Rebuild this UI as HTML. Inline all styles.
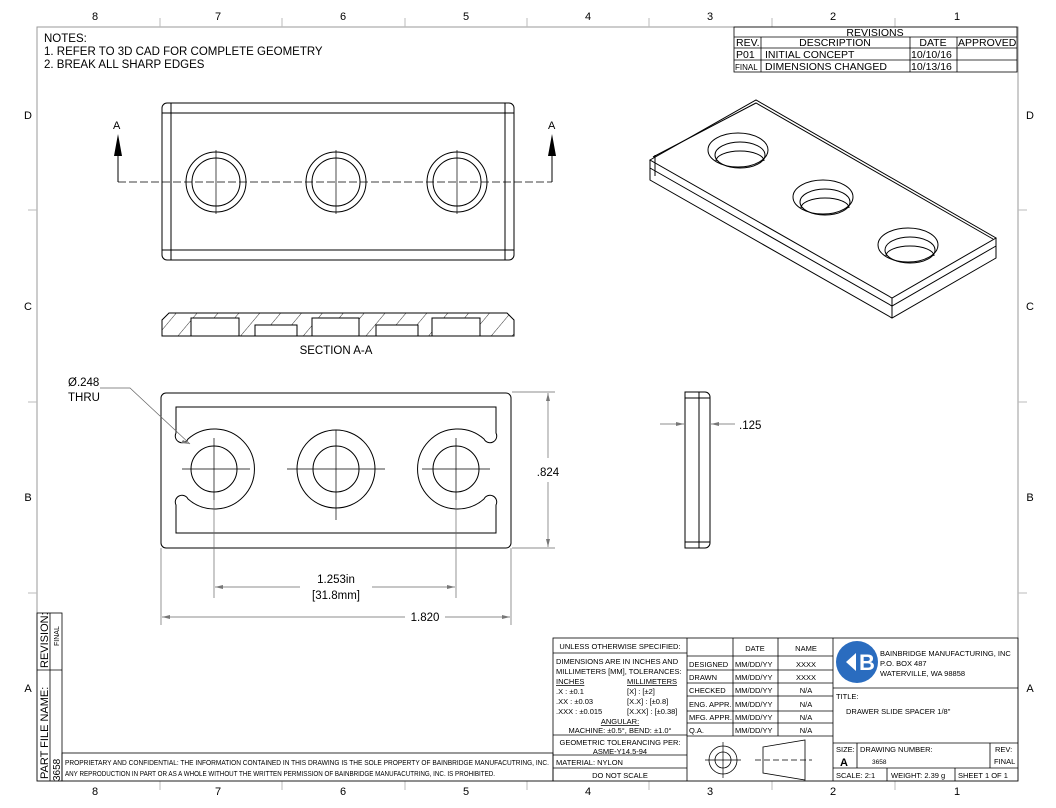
<!DOCTYPE html>
<html><head><meta charset="utf-8"><style>
html,body{margin:0;padding:0;background:#fff;}
svg{display:block;}
text{font-family:"Liberation Sans",sans-serif;fill:#000;}
.g{fill:#555;}
</style></head><body>
<svg width="1056" height="808" viewBox="0 0 1056 808" xmlns="http://www.w3.org/2000/svg">
<defs>
<pattern id="h" patternUnits="userSpaceOnUse" width="16" height="16" patternTransform="rotate(40)">
<line x1="0" y1="0" x2="0" y2="16" stroke="#000" stroke-width="0.8"/></pattern>
</defs>
<rect x="37" y="27" width="981" height="754" fill="none" stroke="#999" stroke-width="1"/>
<g stroke="#bbb" stroke-width="1">
<line x1="160" y1="18" x2="160" y2="27"/><line x1="282" y1="18" x2="282" y2="27"/><line x1="405" y1="18" x2="405" y2="27"/><line x1="527" y1="18" x2="527" y2="27"/><line x1="649" y1="18" x2="649" y2="27"/><line x1="772" y1="18" x2="772" y2="27"/><line x1="895" y1="18" x2="895" y2="27"/>
<line x1="160" y1="781" x2="160" y2="790"/><line x1="282" y1="781" x2="282" y2="790"/><line x1="405" y1="781" x2="405" y2="790"/><line x1="527" y1="781" x2="527" y2="790"/><line x1="649" y1="781" x2="649" y2="790"/><line x1="772" y1="781" x2="772" y2="790"/><line x1="895" y1="781" x2="895" y2="790"/>
<line x1="28" y1="210" x2="37" y2="210"/><line x1="28" y1="402" x2="37" y2="402"/><line x1="28" y1="593" x2="37" y2="593"/>
<line x1="1018" y1="210" x2="1027" y2="210"/><line x1="1018" y1="402" x2="1027" y2="402"/><line x1="1018" y1="593" x2="1027" y2="593"/>
</g>
<g font-size="11" text-anchor="middle" class="g">
<text x="95" y="20">8</text><text x="218" y="20">7</text><text x="343" y="20">6</text><text x="466" y="20">5</text><text x="588" y="20">4</text><text x="710" y="20">3</text><text x="833" y="20">2</text><text x="957" y="20">1</text>
<text x="95" y="795">8</text><text x="218" y="795">7</text><text x="343" y="795">6</text><text x="466" y="795">5</text><text x="588" y="795">4</text><text x="710" y="795">3</text><text x="833" y="795">2</text><text x="957" y="795">1</text>
<text x="28" y="119">D</text><text x="28" y="310">C</text><text x="28" y="501">B</text><text x="28" y="692">A</text>
<text x="1030" y="119">D</text><text x="1030" y="310">C</text><text x="1030" y="501">B</text><text x="1030" y="692">A</text>
</g>
<g font-size="11.5"><text x="44" y="42">NOTES:</text><text x="44" y="55">1.  REFER TO 3D CAD FOR COMPLETE GEOMETRY</text><text x="44" y="68">2.  BREAK ALL SHARP EDGES</text></g>
<g stroke="#000" stroke-width="0.8" fill="none">
<rect x="734" y="27" width="283" height="45"/>
<line x1="734" y1="37" x2="1017" y2="37"/><line x1="734" y1="48" x2="1017" y2="48"/><line x1="734" y1="60" x2="1017" y2="60"/>
<line x1="761" y1="37" x2="761" y2="72"/><line x1="910" y1="37" x2="910" y2="72"/><line x1="957" y1="37" x2="957" y2="72"/>
</g>
<g font-size="10.5"><text x="875" y="36" text-anchor="middle">REVISIONS</text><text x="736" y="46">REV.</text><text x="835" y="46" text-anchor="middle">DESCRIPTION</text><text x="933" y="46" text-anchor="middle">DATE</text><text x="958" y="46">APPROVED</text>
<text x="736" y="58">P01</text><text x="765" y="58">INITIAL CONCEPT</text><text x="911" y="58">10/10/16</text>
<text x="735" y="70" font-size="8">FINAL</text><text x="765" y="70">DIMENSIONS CHANGED</text><text x="911" y="70">10/13/16</text></g>

<g stroke="#000" stroke-width="1" fill="none">
<rect x="162" y="103" width="352" height="157" rx="5"/>
<line x1="171" y1="103" x2="171" y2="260"/><line x1="505" y1="103" x2="505" y2="260"/>
<line x1="162" y1="113" x2="514" y2="113"/><line x1="162" y1="250" x2="514" y2="250"/>
<circle cx="216" cy="182" r="30"/><circle cx="216" cy="182" r="24"/>
<circle cx="336" cy="182" r="30"/><circle cx="336" cy="182" r="24"/>
<circle cx="457" cy="182" r="30"/><circle cx="457" cy="182" r="24"/>
<path d="M216 150V214M336 150V214M457 150V214" stroke-width="0.7"/>
<line x1="118" y1="182" x2="552" y2="182" stroke-dasharray="8 3" stroke-width="0.8"/>
<line x1="118" y1="182" x2="118" y2="145"/><line x1="552" y1="182" x2="552" y2="145"/>
</g>
<path d="M118 134L114 156H122Z M552 134L548 156H556Z" fill="#000"/>
<text x="113" y="129" font-size="11">A</text><text x="548" y="129" font-size="11">A</text>

<path d="M162 336V320L169 313H507L514 320V336Z" fill="url(#h)" stroke="#000" stroke-width="1"/>
<g fill="#fff" stroke="#000" stroke-width="1">
<rect x="191" y="318" width="48" height="18"/><rect x="255" y="325" width="42" height="11"/><rect x="312" y="318" width="47" height="18"/><rect x="376" y="325" width="42" height="11"/><rect x="432" y="318" width="48" height="18"/>
</g>
<line x1="162" y1="336" x2="514" y2="336" stroke="#000"/>
<text x="336" y="354" font-size="11.5" text-anchor="middle">SECTION A-A</text>

<g stroke="#000" stroke-width="1" fill="none">
<rect x="161" y="393" width="350" height="155" rx="5"/>
<path d="M176 407H496V433A6 6 0 0 1 484 439A40 40 0 1 0 484 499A6 6 0 0 1 496 505V533H176V505A6 6 0 0 1 188 499A40 40 0 1 0 188 439A6 6 0 0 1 176 433Z"/>
<circle cx="214" cy="469" r="23"/><circle cx="336" cy="469" r="23"/><circle cx="336" cy="469" r="39"/><circle cx="456" cy="469" r="23"/>
<g stroke-width="0.7"><path d="M182 469H250M214 438V500M287 469H385M336 430V520M422 469H490M456 438V500"/></g>
</g>
<g stroke="#666" stroke-width="0.7" fill="none">
<line x1="214" y1="500" x2="214" y2="598"/><line x1="456" y1="500" x2="456" y2="598"/>
<line x1="215" y1="587" x2="300" y2="587"/><line x1="372" y1="587" x2="455" y2="587"/>
<line x1="161" y1="548" x2="161" y2="625"/><line x1="511" y1="548" x2="511" y2="625"/>
<line x1="162" y1="617" x2="405" y2="617"/><line x1="445" y1="617" x2="510" y2="617"/>
<line x1="512" y1="392" x2="555" y2="392"/><line x1="512" y1="548" x2="555" y2="548"/>
<line x1="548" y1="393" x2="548" y2="458"/><line x1="548" y1="482" x2="548" y2="547"/>
<path d="M100 388H130L190 444"/>
<line x1="660" y1="424" x2="684" y2="424"/><line x1="711" y1="424" x2="735" y2="424"/>
</g>
<g fill="#777"><path d="M215 587l8-2v4z M455 587l-8-2v4z M162 617l8-2v4z M510 617l-8-2v4z M548 393l-2 8h4z M548 547l-2-8h4z M190 444l-7-4-2 3z M684 424l-8-2v4z M711 424l8-2v4z"/></g>
<g font-size="11.5" class="g">
<text x="336" y="583" text-anchor="middle">1.253in</text><text x="336" y="599" text-anchor="middle">[31.8mm]</text>
<text x="425" y="621" text-anchor="middle">1.820</text><text x="548" y="476" text-anchor="middle">.824</text>
<text x="68" y="386">Ø.248</text><text x="68" y="401">THRU</text><text x="739" y="429">.125</text></g>
<g stroke="#000" stroke-width="1" fill="none">
<path d="M685 392H705A5 5 0 0 1 710 397V543A5 5 0 0 1 705 548H685Z"/>
<line x1="699" y1="392" x2="699" y2="548"/><line x1="685" y1="398" x2="710" y2="398"/><line x1="685" y1="542" x2="710" y2="542"/>
</g>
<g stroke="#000" stroke-width="1" fill="none">
<path d="M650 160L756 100L996 238L892 298Z"/>
<path d="M653 157L756 103L993 239"/>
<path d="M650 160L650 180L892 318L996 258L996 238"/>
<path d="M650 168L892 306L996 246"/>
<path d="M892 298V318M655 155V176"/>
<ellipse cx="738" cy="150" rx="30" ry="17"/><ellipse cx="740" cy="155" rx="25" ry="13"/><path d="M716 161A24 10 0 0 1 764 161"/>
<ellipse cx="823" cy="197" rx="30" ry="17"/><ellipse cx="825" cy="202" rx="25" ry="13"/><path d="M801 208A24 10 0 0 1 849 208"/>
<ellipse cx="908" cy="245" rx="30" ry="17"/><ellipse cx="910" cy="250" rx="25" ry="13"/><path d="M886 256A24 10 0 0 1 934 256"/>
</g>
<g stroke="#000" stroke-width="0.8" fill="none">
<rect x="37" y="613" width="25" height="168"/><line x1="50" y1="613" x2="50" y2="781"/><line x1="37" y1="670" x2="62" y2="670"/>
<rect x="62" y="753" width="491" height="28"/>
</g>
<g font-size="11"><text transform="translate(48,668) rotate(-90)">REVISION:</text><text transform="translate(48,779) rotate(-90)">PART FILE NAME:</text>
<text transform="translate(60,781) rotate(-90)" font-size="10">3658</text><text transform="translate(59,646) rotate(-90)" font-size="7">FINAL</text></g>
<g font-size="7.3"><text x="65" y="765" textLength="484" lengthAdjust="spacingAndGlyphs">PROPRIETARY AND CONFIDENTIAL: THE INFORMATION CONTAINED IN THIS DRAWING IS THE SOLE PROPERTY OF BAINBRIDGE MANUFACUTRING, INC.</text><text x="65" y="776" textLength="430" lengthAdjust="spacingAndGlyphs">ANY REPRODUCTION IN PART OR AS A WHOLE WITHOUT THE WRITTEN PERMISSION OF BAINBRIDGE MANUFACUTRING, INC. IS PROHIBITED.</text></g>
<g stroke="#000" stroke-width="0.8" fill="none">
<rect x="553" y="638" width="465" height="143"/>
<line x1="687" y1="638" x2="687" y2="781"/><line x1="833" y1="638" x2="833" y2="781"/>
<line x1="553" y1="653" x2="687" y2="653"/><line x1="553" y1="735" x2="687" y2="735"/><line x1="553" y1="755" x2="687" y2="755"/><line x1="553" y1="768" x2="687" y2="768"/>
<line x1="733" y1="638" x2="733" y2="736"/><line x1="778" y1="638" x2="778" y2="736"/>
<line x1="687" y1="656" x2="833" y2="656"/><line x1="687" y1="670" x2="833" y2="670"/><line x1="687" y1="683" x2="833" y2="683"/><line x1="687" y1="696" x2="833" y2="696"/><line x1="687" y1="711" x2="833" y2="711"/><line x1="687" y1="723" x2="833" y2="723"/><line x1="687" y1="736" x2="833" y2="736"/>
<line x1="833" y1="688" x2="1018" y2="688"/><line x1="833" y1="743" x2="1018" y2="743"/><line x1="833" y1="768" x2="1018" y2="768"/>
<line x1="857" y1="743" x2="857" y2="768"/><line x1="990" y1="743" x2="990" y2="768"/><line x1="887" y1="768" x2="887" y2="781"/><line x1="955" y1="768" x2="955" y2="781"/>
<circle cx="723" cy="760" r="14"/><circle cx="723" cy="760" r="8"/><path d="M705 760H741M723 742V778" stroke-width="0.7"/>
<path d="M763 747L805 740V780L763 773Z"/><path d="M755 760H812" stroke-dasharray="6 3" stroke-width="0.7"/>
</g>
<g font-size="7.5">
<text x="620" y="649" text-anchor="middle">UNLESS OTHERWISE SPECIFIED:</text>
<text x="556" y="664">DIMENSIONS ARE IN INCHES AND</text><text x="556" y="674">MILLIMETERS [MM], TOLERANCES:</text>
<text x="556" y="684" text-decoration="underline">INCHES</text><text x="627" y="684" text-decoration="underline">MILLIMETERS</text>
<text x="556" y="694">.X :     ±0.1</text><text x="627" y="694">[X]      : [±2]</text>
<text x="556" y="704">.XX :    ±0.03</text><text x="627" y="704">[X.X]    : [±0.8]</text>
<text x="556" y="714">.XXX :   ±0.015</text><text x="627" y="714">[X.XX] : [±0.38]</text>
<text x="620" y="724" text-anchor="middle" text-decoration="underline">ANGULAR:</text>
<text x="620" y="733" text-anchor="middle">MACHINE: ±0.5°, BEND: ±1.0°</text>
<text x="620" y="745" text-anchor="middle">GEOMETRIC TOLERANCING PER:</text><text x="620" y="754" text-anchor="middle">ASME-Y14.5-94</text>
<text x="556" y="765">MATERIAL:  NYLON</text><text x="620" y="778" text-anchor="middle">DO NOT SCALE</text>
<text x="755" y="651" text-anchor="middle">DATE</text><text x="806" y="651" text-anchor="middle">NAME</text>
<text x="689" y="667">DESIGNED</text><text x="735" y="667">MM/DD/YY</text><text x="806" y="667" text-anchor="middle">XXXX</text>
<text x="689" y="680">DRAWN</text><text x="735" y="680">MM/DD/YY</text><text x="806" y="680" text-anchor="middle">XXXX</text>
<text x="689" y="693">CHECKED</text><text x="735" y="693">MM/DD/YY</text><text x="806" y="693" text-anchor="middle">N/A</text>
<text x="689" y="707">ENG. APPR.</text><text x="735" y="707">MM/DD/YY</text><text x="806" y="707" text-anchor="middle">N/A</text>
<text x="689" y="720">MFG. APPR.</text><text x="735" y="720">MM/DD/YY</text><text x="806" y="720" text-anchor="middle">N/A</text>
<text x="689" y="733">Q.A.</text><text x="735" y="733">MM/DD/YY</text><text x="806" y="733" text-anchor="middle">N/A</text>
<text x="880" y="656">BAINBRIDGE MANUFACTURING, INC</text><text x="880" y="666">P.O. BOX 487</text><text x="880" y="676">WATERVILLE, WA 98858</text>
<text x="836" y="699">TITLE:</text><text x="846" y="714">DRAWER SLIDE SPACER 1/8"</text>
<text x="836" y="752">SIZE:</text><text x="860" y="752">DRAWING NUMBER:</text><text x="872" y="764" font-size="6.5">3658</text><text x="995" y="752">REV:</text><text x="994" y="764">FINAL</text>
<text x="836" y="778">SCALE: 2:1</text><text x="891" y="778">WEIGHT: 2.39 g</text><text x="958" y="778">SHEET 1 OF 1</text>
</g>
<text x="840" y="766" font-size="11" font-weight="bold">A</text>
<circle cx="857" cy="662" r="21" fill="#2a6cbf"/><path d="M846 662l10-9v18z" fill="#fff"/><text x="859" y="670" font-size="22" font-weight="bold" style="fill:#fff">B</text>
</svg>
</body></html>
